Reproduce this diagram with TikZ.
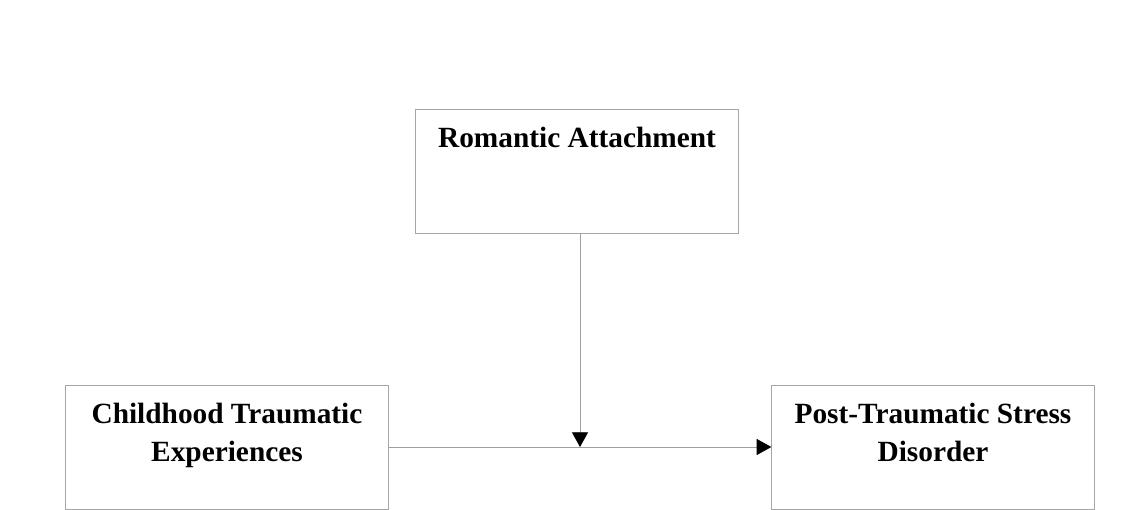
\documentclass[tikz,border=0pt]{standalone}
\usepackage{fontspec}
\setmainfont{Liberation Serif}
\usetikzlibrary{arrows.meta,positioning}

\begin{document}
\begin{tikzpicture}
        [x=0.75pt,y=-0.75pt,
         box/.style={rectangle,draw=gray!70,line width=0.5pt,minimum width=242pt,minimum height=93pt,inner sep=0pt},
         title/.style={anchor=north,inner sep=0pt,align=center,font=\fontsize{22}{29}\selectfont\bfseries},
         link/.style={draw=gray!75,line width=0.6pt,-{Triangle[length=11pt,width=12pt,black]}}]
        \useasboundingbox (0,0) rectangle (1142,510);

        % boxes
        \node[box]  (RA)  at  (577,171)   {};
        \node[box]  (CTE) at  (227,447)   {};
        \node[box]  (PTSD) at (933,447)   {};

        % titles
        \node[title] (RAt)   at ([yshift=-13.5pt]RA.north)   {Romantic Attachment};
        \node[title] (CTEt)  at ([yshift=-13.5pt]CTE.north)  {Childhood Traumatic\\Experiences};
        \node[title] (PTSDt) at ([yshift=-13.5pt]PTSD.north) {Post-Traumatic Stress\\Disorder};

        % moderation
        \coordinate (M) at (580,447);
        \draw[link] (CTE.east)      --  (PTSD.west);
        \draw[link] (M |- RA.south) --  (M);
\end{tikzpicture}
\end{document}
